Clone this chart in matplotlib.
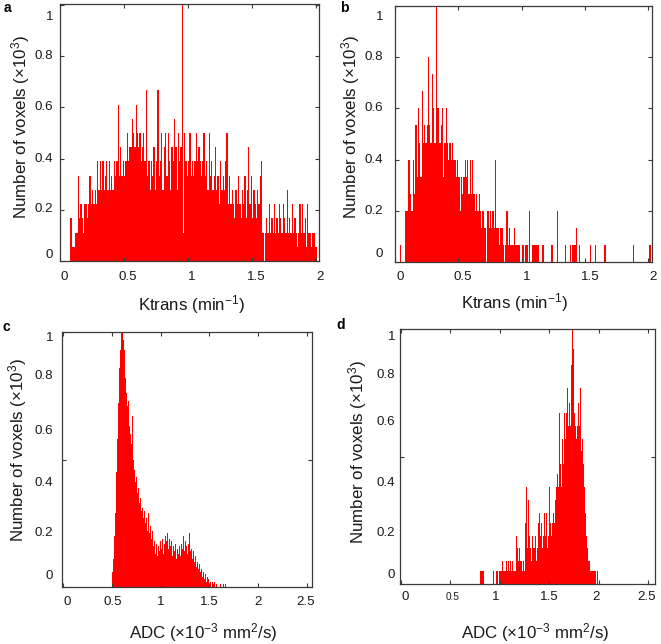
import matplotlib
matplotlib.use("Agg")
import matplotlib.pyplot as plt
from matplotlib.transforms import blended_transform_factory, offset_copy

plt.rcParams['font.family'] = ['Liberation Sans', 'DejaVu Sans']
plt.rcParams['mathtext.fontset'] = 'custom'
plt.rcParams['mathtext.rm'] = 'Liberation Sans'
plt.rcParams['mathtext.it'] = 'Liberation Sans:italic'
plt.rcParams['mathtext.bf'] = 'Liberation Sans:bold'

# ---------------- data ----------------
bin_w = 0.01

# panel a: Ktrans histogram (counts, full scale = 18)
a_start = 0.085
a_scale = 18
a_counts = [3, 1, 1, 1, 2, 2, 6, 3, 4, 3,
            2, 4, 4, 3, 4, 6, 4, 5, 4, 5,
            4, 7, 5, 7, 5, 7, 5, 6, 7, 5,
            7, 5, 6, 5, 7, 6, 7, 11, 6, 8,
            6, 7, 6, 7, 9, 7, 8, 8, 10, 9,
            8, 11, 9, 8, 9, 7, 8, 9, 7, 12,
            6, 7, 5, 7, 6, 8, 5, 7, 12, 6,
            7, 9, 5, 8, 9, 6, 9, 7, 5, 8,
            7, 10, 8, 5, 9, 7, 8, 18, 2, 9,
            7, 6, 7, 9, 6, 7, 6, 7, 9, 7,
            8, 7, 6, 7, 9, 6, 7, 5, 9, 6,
            7, 5, 6, 8, 5, 6, 4, 7, 5, 6,
            5, 7, 9, 4, 6, 4, 5, 4, 3, 5,
            4, 6, 4, 3, 5, 4, 6, 3, 5, 8,
            4, 6, 3, 5, 4, 3, 5, 4, 6, 7,
            2, 0, 2, 3, 2, 4, 2, 3, 2, 4,
            2, 3, 2, 4, 3, 2, 4, 3, 2, 5,
            2, 3, 2, 4, 2, 3, 2, 1, 2, 4,
            2, 4, 2, 3, 1, 4, 2, 2, 1, 2,
            2, 1, 1]

# panel b: Ktrans histogram (counts, full scale = 15)
b_start = 0.045
b_scale = 15
b_counts = [1, 0, 0, 0, 3, 3, 6, 6, 4, 3,
            6, 4, 8, 5, 9, 7, 5, 10, 7, 8,
            7, 8, 12, 8, 7, 11, 9, 7, 15, 9,
            9, 7, 8, 9, 5, 7, 9, 7, 6, 7,
            6, 7, 6, 6, 5, 6, 5, 3, 5, 4,
            5, 6, 5, 6, 4, 6, 4, 6, 4, 3,
            4, 3, 4, 3, 2, 3, 2, 2, 0, 3,
            2, 3, 2, 3, 2, 6, 2, 2, 1, 2,
            2, 1, 0, 1, 3, 1, 2, 1, 1, 1,
            2, 1, 1, 1, 1, 0, 1, 1, 0, 1,
            1, 0, 3, 0, 1, 1, 1, 1, 1, 1]
b_tail_x = [1.165, 1.175, 1.235, 1.245, 1.285, 1.345, 1.385, 1.405, 1.415,
            1.425, 1.435, 1.455, 1.545, 1.585, 1.655, 1.665, 1.885, 2.015]
b_tail_counts = [1, 1, 1, 1, 3, 1, 1, 1, 1, 1, 2, 1, 1, 1, 1, 1, 1, 1]

# panel c: ADC histogram (x10^3 voxels)
c_start = 0.505
c_heights = [0.06, 0.11, 0.20, 0.29, 0.45, 0.58, 0.72, 0.86, 0.93, 1.00,
             1.00, 0.97, 0.93, 0.88, 0.82, 0.76, 0.71, 0.73, 0.63, 0.60,
             0.56, 0.67, 0.50, 0.46, 0.41, 0.43, 0.37, 0.39, 0.33, 0.35,
             0.30, 0.31, 0.27, 0.30, 0.25, 0.27, 0.22, 0.29, 0.21, 0.24,
             0.19, 0.22, 0.16, 0.18, 0.13, 0.17, 0.12, 0.16, 0.14, 0.18,
             0.15, 0.19, 0.13, 0.17, 0.20, 0.22, 0.18, 0.21, 0.15, 0.19,
             0.16, 0.18, 0.12, 0.16, 0.14, 0.17, 0.11, 0.15, 0.13, 0.16,
             0.12, 0.17, 0.15, 0.20, 0.14, 0.18, 0.16, 0.13, 0.17, 0.21,
             0.14, 0.15, 0.11, 0.14, 0.10, 0.12, 0.08, 0.10, 0.07, 0.09,
             0.06, 0.07, 0.04, 0.06, 0.03, 0.05, 0.02, 0.04, 0.02, 0.03,
             0.01, 0.02, 0.00, 0.02, 0.01, 0.02, 0.00, 0.01, 0.00, 0.00,
             0.00, 0.01, 0.00, 0.00, 0.01, 0.00, 0.01]

# panel d: ADC histogram (x10^3 voxels)
d_start = 0.805
d_heights = [0.05, 0.05, 0.05, 0.05, 0, 0, 0, 0, 0, 0,
             0, 0, 0, 0.05, 0, 0, 0.05, 0.05, 0, 0.05,
             0.05, 0.05, 0.09, 0.05, 0.05, 0.05, 0.09, 0.05, 0.09, 0.05,
             0.09, 0.05, 0.09, 0.05, 0.05, 0.05, 0.19, 0.14, 0.09, 0.14,
             0.09, 0.09, 0.05, 0.09, 0.05, 0.24, 0.38, 0.14, 0.33, 0.19,
             0.14, 0.09, 0.19, 0.14, 0.14, 0.19, 0.09, 0.14, 0.24, 0.28,
             0.19, 0.24, 0.14, 0.19, 0.28, 0.19, 0.28, 0.24, 0.14, 0.19,
             0.38, 0.24, 0.19, 0.24, 0.28, 0.24, 0.33, 0.38, 0.43, 0.38,
             0.67, 0.47, 0.38, 0.57, 0.47, 0.67, 0.57, 0.67, 0.77, 0.62,
             0.71, 0.62, 0.86, 1.00, 0.92, 0.67, 0.62, 0.57, 0.62, 0.71,
             0.62, 0.77, 0.52, 0.57, 0.47, 0.38, 0.28, 0.19, 0.14, 0.09,
             0.09, 0.05, 0.05, 0.05, 0.05, 0.05, 0.05, 0.0, 0.05]

xt_k = [0, 0.5, 1, 1.5, 2]
xt_k_labels = ['0', '0.5', '1', '1.5', '2']
xt_adc = [0, 0.5, 1, 1.5, 2, 2.5]
xt_adc_labels = ['0', '0.5', '1', '1.5', '2', '2.5']
y_labels = ['0', '0.2', '0.4', '0.6', '0.8', '1']

ylab = 'Number of voxels (×10$^3$)'
xlab_k = 'Ktrans (min$^{-1}$)'
xlab_adc = 'ADC (×10$^{-3}$ mm$^2$/s)'

# ---------------- figure ----------------
W, H = 661, 644
fig = plt.figure(figsize=(W / 100, H / 100), dpi=100, facecolor='white')
RED = '#ff0000'
SPINE = '#3a3a3a'
TXT = '#1a1a1a'
TICK_FS = 9.6
LAB_FS = 12.2


def rect(x0, y0, x1, y1):
    return [x0 / W, 1 - y1 / H, (x1 - x0) / W, (y1 - y0) / H]


def fpos(x, y):
    return x / W, 1 - y / H


def setup(ax, xlim, ylim, xticks, yticks):
    ax.set_xlim(xlim)
    ax.set_ylim(ylim)
    ax.set_xticks(xticks)
    ax.set_yticks(yticks)
    ax.tick_params(direction='in', length=3, width=0.8, top=True, right=True,
                   labelbottom=False, labelleft=False, color=SPINE)
    for s in ax.spines.values():
        s.set_linewidth(0.9)
        s.set_color(SPINE)


def xticklabels(ax, vals, labels, dx, dy, sizes=None):
    base = blended_transform_factory(ax.transData, ax.transAxes)
    for i, (v, l) in enumerate(zip(vals, labels)):
        off = dx[i] if isinstance(dx, list) else dx
        fs = sizes[i] if sizes else TICK_FS
        tr = offset_copy(base, fig=fig, x=off, y=-dy, units='dots')
        ax.text(v, 0, l, transform=tr, ha='center', va='center',
                fontsize=fs, color=TXT, clip_on=False)


def yticklabels(ax, pos, labels, gap):
    base = blended_transform_factory(ax.transAxes, ax.transData)
    tr = offset_copy(base, fig=fig, x=-gap, y=0, units='dots')
    for v, l in zip(pos, labels):
        ax.text(0, v, l, transform=tr, ha='right', va='center',
                fontsize=TICK_FS, color=TXT, clip_on=False)


def centers(start, n):
    return [start + i * bin_w for i in range(n)]


# panel a
axa = fig.add_axes(rect(60, 4, 319, 261))
axa.bar(centers(a_start, len(a_counts)), [c / a_scale for c in a_counts],
        width=bin_w, color=RED, linewidth=0)
setup(axa, (0, 2.023), (0, 1.004), xt_k, [0, 0.2, 0.4, 0.6, 0.8, 1.0])
xticklabels(axa, xt_k, xt_k_labels, 4, 16)
yticklabels(axa, [0.023, 0.203, 0.398, 0.60, 0.80, 0.954], y_labels, 7)

# panel b
axb = fig.add_axes(rect(395, 6, 652, 262))
axb.bar(centers(b_start, len(b_counts)), [c / b_scale for c in b_counts],
        width=bin_w, color=RED, linewidth=0)
axb.bar(b_tail_x, [c / b_scale for c in b_tail_counts],
        width=bin_w, color=RED, linewidth=0)
setup(axb, (0, 2.03), (0, 1.0), xt_k, [0, 0.2, 0.4, 0.6, 0.8, 1.0])
xticklabels(axb, xt_k, xt_k_labels, 5, 15)
yticklabels(axb, [0.03, 0.20, 0.40, 0.60, 0.80, 0.957], y_labels, 12)

# panel c
axc = fig.add_axes(rect(62, 332, 312, 587))
axc.bar(centers(c_start, len(c_heights)), c_heights,
        width=bin_w, color=RED, linewidth=0)
setup(axc, (-0.01, 2.55), (0, 1.0), xt_adc, [0, 0.5, 1.0])
xticklabels(axc, xt_adc, xt_adc_labels, [4, 1, 0, 0, 0, -1], 15)
yticklabels(axc, [0.043, 0.212, 0.408, 0.612, 0.827, 0.976], y_labels, 9)

# panel d
axd = fig.add_axes(rect(400, 329, 655, 584))
axd.bar(centers(d_start, len(d_heights)), d_heights,
        width=bin_w, color=RED, linewidth=0)
setup(axd, (-0.01, 2.566), (0, 1.0), xt_adc, [0, 0.5, 1.0])
xticklabels(axd, xt_adc, xt_adc_labels, [4, 2, -4, 0, -3, -2], 13,
            sizes=[TICK_FS, 7.2, TICK_FS, TICK_FS, TICK_FS, TICK_FS])
yticklabels(axd, [0.035, 0.20, 0.396, 0.636, 0.82, 0.969], y_labels, 5)

# axis labels
for (x, y), t in [((192, 305), xlab_k), ((515, 303), xlab_k),
                  ((203, 633), xlab_adc), ((535, 633), xlab_adc)]:
    fig.text(*fpos(x, y), t, ha='center', va='center', fontsize=LAB_FS, color=TXT)
for (x, y) in [(21, 127), (351, 127), (18, 450), (358, 452)]:
    fig.text(*fpos(x, y), ylab, ha='center', va='center', rotation=90,
             fontsize=LAB_FS, color=TXT)

# panel letters
for (x, y), t in [((7, 8), 'a'), ((344, 8), 'b'), ((6, 327), 'c'), ((341, 325), 'd')]:
    fig.text(*fpos(x, y), t, ha='center', va='center', fontsize=10,
             fontweight='bold', color='black')

fig.savefig('out.png', dpi=100, facecolor='white')
